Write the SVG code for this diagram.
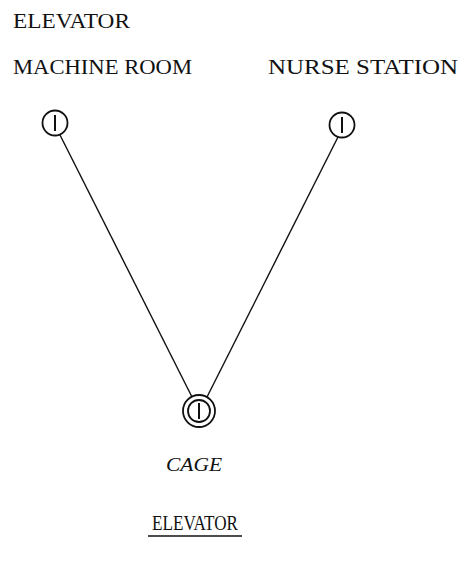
<svg xmlns="http://www.w3.org/2000/svg" width="465" height="569" viewBox="0 0 465 569">
  <style>
    .lbl { font-family: "Liberation Serif", "DejaVu Serif", serif; font-size: 20px; fill: #111; }
    .cap { font-family: "Liberation Serif", "DejaVu Serif", serif; font-size: 19px; font-style: italic; fill: #111; }
    .ring { fill: #fff; stroke: #111; stroke-width: 1.8; }
    .bar { stroke: #111; stroke-width: 2; }
    .wire { stroke: #111; stroke-width: 1.4; fill: none; }
  </style>
  <rect width="465" height="569" fill="#fff"/>

  <g id="connectors">
    <line class="wire" x1="60" y1="135" x2="192" y2="397"/>
    <line class="wire" x1="338" y1="137" x2="207" y2="397"/>
  </g>

  <g id="machine-room">
    <text class="lbl" x="13" y="28" textLength="117" lengthAdjust="spacingAndGlyphs">ELEVATOR</text>
    <text class="lbl" x="13" y="74" textLength="179" lengthAdjust="spacingAndGlyphs">MACHINE ROOM</text>
    <circle class="ring" cx="55" cy="123" r="12.5"/>
    <line class="bar" x1="55" y1="115" x2="55" y2="131"/>
  </g>

  <g id="nurse-station">
    <text class="lbl" x="268" y="74" textLength="190" lengthAdjust="spacingAndGlyphs">NURSE STATION</text>
    <circle class="ring" cx="342" cy="125" r="12.5"/>
    <line class="bar" x1="342" y1="117" x2="342" y2="133"/>
  </g>

  <g id="cage">
    <circle class="ring" cx="199" cy="411" r="16"/>
    <circle class="ring" cx="199" cy="411" r="11"/>
    <line class="bar" x1="199" y1="403" x2="199" y2="419"/>
    <text class="cap" x="166" y="471" textLength="56" lengthAdjust="spacingAndGlyphs">CAGE</text>
  </g>

  <g id="title">
    <text class="lbl" x="152" y="530" font-size="18" textLength="86" lengthAdjust="spacingAndGlyphs">ELEVATOR</text>
    <line class="wire" x1="148" y1="536" x2="242" y2="536" stroke-width="1.2"/>
  </g>
</svg>
